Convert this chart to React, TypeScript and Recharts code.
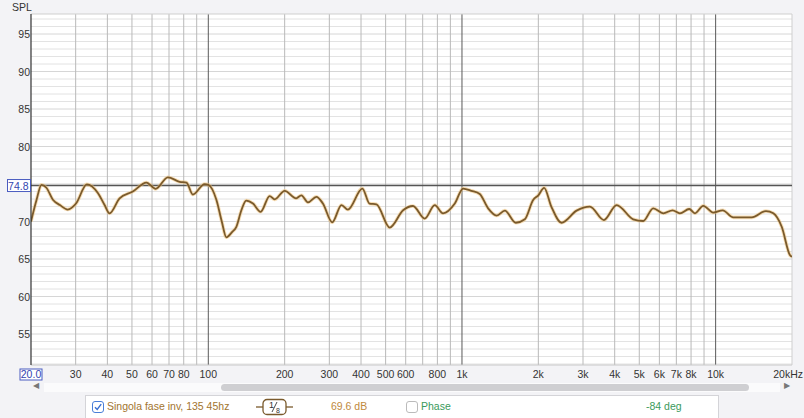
import React from "react";
import { LineChart, Line, XAxis, YAxis, ReferenceLine, CartesianGrid } from "recharts";

const freqHz = [
  20, 21, 22, 23, 24.4, 26, 27.9, 30.1, 33.2, 36.7, 39, 40.8, 44.7, 50.4, 57, 62, 69.3, 77.1, 82,
  86.9, 96.7, 100, 107.6, 113, 117.8, 124, 129, 135, 141, 150, 160.8, 174.5, 182.6, 200, 222,
  232.7, 247, 266.7, 283, 308, 335, 355, 405, 432, 460, 519, 586, 641, 713, 781, 842, 937, 1010,
  1090, 1175, 1268, 1370, 1476, 1630, 1769, 1908, 2000, 2108, 2250, 2469, 2830, 3193, 3626, 4070,
  4731, 5181, 5675, 6215, 6766, 7229, 7868, 8288, 8935, 9785, 10660, 11735, 13870, 15793, 16880,
  18220, 19650, 20000,
];
const splDb = [
  70.0, 72.8, 74.9, 74.5, 72.9, 72.2, 71.6, 72.4, 74.95, 73.8, 72.2, 71.1, 73.1, 74.0, 75.2, 74.35,
  75.9, 75.3, 75.2, 73.6, 75.0, 74.9, 72.9, 70.0, 67.9, 68.6, 69.3, 71.5, 72.8, 72.4, 71.3, 73.4,
  72.96, 74.1, 73.1, 73.5, 72.56, 73.3, 72.4, 69.9, 72.2, 71.6, 74.4, 72.4, 72.3, 69.2, 71.5,
  72.07, 70.4, 72.2, 71.1, 72.4, 74.4, 74.1, 73.67, 71.76, 70.8, 71.45, 69.84, 70.3, 72.87, 73.5,
  74.5, 72.0, 69.84, 71.45, 71.98, 70.2, 72.2, 70.3, 70.07, 71.76, 71.1, 71.5, 71.1, 71.67, 71.1,
  72.1, 71.2, 71.5, 70.56, 70.56, 71.4, 71.1, 69.3, 65.5, 65.3,
];

const xTicks = [20, 30, 40, 50, 60, 70, 80, 100, 200, 300, 400, 500, 600, 800, 1000, 2000, 3000, 4000, 5000, 6000, 7000, 8000, 10000, 20000];
const xMinor = [30, 40, 50, 60, 70, 80, 90, 200, 300, 400, 500, 600, 700, 800, 900, 2000, 3000, 4000, 5000, 6000, 7000, 8000, 9000];
const xMajor = [100, 1000, 10000];
const yGrid5 = [55, 60, 65, 70, 75, 80, 85, 90, 95];
// 75 is hidden behind the 74.8 marker label
const yLabels = [55, 60, 65, 70, 80, 85, 90, 95];
const yMinor = [51, 52, 53, 54, 56, 57, 58, 59, 61, 62, 63, 64, 66, 67, 68, 69, 71, 72, 73, 74, 76, 77, 78, 79, 81, 82, 83, 84, 86, 87, 88, 89, 91, 92, 93, 94, 96, 97];
const refLevel = 74.8;

const traceName = "Singola fase inv, 135 45hz";
const cursorSpl = "69.6 dB";
const cursorPhase = "-84 deg";

const data = freqHz.map((f, i) => ({ f, spl: splDb[i] }));

const FONT = "'Liberation Sans', Arial, sans-serif";
const FS = 10.5;

function fmtFreq(v: number) {
  if (v === 20) return "20.0";
  if (v === 20000) return "20kHz";
  return v >= 1000 ? `${v / 1000}k` : `${v}`;
}

function FreqTick(props: any) {
  const { x, payload } = props;
  const v = payload.value;
  const ty = 378;
  if (v === 20) {
    return (
      <g>
        <rect x={x - 11} y={369} width={22} height={11} fill="#fff" stroke="#4a5cc0" strokeWidth={1} />
        <text x={x} y={ty} textAnchor="middle" fontSize={FS} fill="#3345b0" fontFamily={FONT}>20.0</text>
      </g>
    );
  }
  if (v === 20000) {
    return (
      <text x={803} y={ty} textAnchor="end" fontSize={FS} fill="#333" fontFamily={FONT}>20kHz</text>
    );
  }
  return (
    <text x={x} y={ty} textAnchor="middle" fontSize={FS} fill="#333" fontFamily={FONT}>{fmtFreq(v)}</text>
  );
}

function SplTick(props: any) {
  const { y, payload } = props;
  const v = payload.value;
  if (v === refLevel) {
    return (
      <g>
        <rect x={7.5} y={y - 6} width={23} height={12} fill="#fff" stroke="#4a5cc0" strokeWidth={1} />
        <text x={28.5} y={y + 4} textAnchor="end" fontSize={FS} fill="#3345b0" fontFamily={FONT}>74.8</text>
      </g>
    );
  }
  return (
    <text x={30} y={y + 4} textAnchor="end" fontSize={FS} fill="#333" fontFamily={FONT}>{v}</text>
  );
}

function CheckBox({ checked }: { checked: boolean }) {
  return (
    <svg width={12} height={12} style={{ display: "block" }}>
      <rect x={0.5} y={0.5} width={11} height={11} rx={2.5} fill="#fff" stroke={checked ? "#4a7fd8" : "#bbb"} />
      {checked && <path d="M3 6.2 L5.2 8.5 L9.2 3.2" fill="none" stroke="#3a6fd0" strokeWidth={1.4} />}
    </svg>
  );
}

export default function App() {
  return (
    <div
      style={{
        position: "absolute",
        left: 0,
        top: 0,
        width: 804,
        height: 418,
        background: "#f3f3f6",
        fontFamily: FONT,
        overflow: "hidden",
      }}
    >
      <div style={{ position: "absolute", left: 12, top: 1, fontSize: FS, color: "#333" }}>SPL</div>
      <LineChart width={804} height={395} data={data} margin={{ top: 14, right: 12, left: 0, bottom: 8 }}>
        <CartesianGrid fill="#ffffff" horizontal={false} vertical={false} />
        {yMinor.map((v) => (
          <ReferenceLine key={`ym${v}`} y={v} stroke="#e3e3e3" strokeWidth={1} />
        ))}
        {yGrid5.map((v) => (
          <ReferenceLine key={`yt${v}`} y={v} stroke="#d6d6d6" strokeWidth={1} />
        ))}
        {xMinor.map((v) => (
          <ReferenceLine key={`xm${v}`} x={v} stroke="#b9b9b9" strokeWidth={1} />
        ))}
        {xMajor.map((v) => (
          <ReferenceLine key={`xM${v}`} x={v} stroke="#5a5a5a" strokeWidth={1} />
        ))}
        <ReferenceLine y={97.67} stroke="#cfcfcf" />
        <ReferenceLine x={20000} stroke="#cfcfcf" />
        <ReferenceLine y={refLevel} stroke="#555" strokeWidth={1.5} />
        <XAxis
          dataKey="f"
          type="number"
          scale="log"
          domain={[20, 20000]}
          ticks={xTicks}
          interval={0}
          allowDataOverflow
          height={22}
          tickLine={false}
          axisLine={{ stroke: "#c8c8c8" }}
          tick={<FreqTick />}
        />
        <YAxis
          type="number"
          domain={[50.87, 97.67]}
          ticks={[...yLabels, refLevel]}
          interval={0}
          allowDataOverflow
          width={31}
          tickLine={false}
          axisLine={{ stroke: "#333", strokeWidth: 1.2 }}
          tick={<SplTick />}
        />
        <Line
          type="monotone"
          dataKey="spl"
          stroke="#f0c27a"
          strokeOpacity={0.55}
          strokeWidth={3.6}
          dot={false}
          activeDot={false}
          isAnimationActive={false}
        />
        <Line
          type="monotone"
          dataKey="spl"
          stroke="#7a5a2c"
          strokeWidth={1.8}
          dot={false}
          activeDot={false}
          isAnimationActive={false}
        />
      </LineChart>

      {/* scroll bar */}
      <div style={{ position: "absolute", left: 33, top: 381, fontSize: 8, color: "#777" }}>◀</div>
      <div style={{ position: "absolute", left: 44, top: 383, width: 736, height: 9, background: "#fbfbfc" }} />
      <div style={{ position: "absolute", left: 221, top: 384, width: 528, height: 7, borderRadius: 4, background: "#cfcfd2" }} />
      <div style={{ position: "absolute", left: 784, top: 381, fontSize: 8, color: "#777" }}>▶</div>

      {/* trace legend row */}
      <div
        style={{
          position: "absolute",
          left: 85,
          top: 395,
          width: 634,
          height: 30,
          background: "#fff",
          border: "1px solid #d4d4d8",
          boxSizing: "border-box",
          fontSize: FS,
        }}
      >
        <div style={{ position: "absolute", left: 6, top: 5 }}>
          <CheckBox checked />
        </div>
        <div style={{ position: "absolute", left: 21, top: 4, color: "#a2742e" }}>{traceName}</div>
        <svg style={{ position: "absolute", left: 169, top: 2 }} width={40} height={18}>
          <line x1={1} y1={9} x2={8} y2={9} stroke="#7a5a2c" strokeWidth={1.3} />
          <line x1={31} y1={9} x2={38} y2={9} stroke="#7a5a2c" strokeWidth={1.3} />
          <rect x={8} y={1.5} width={23} height={15} rx={4} fill="#fff" stroke="#7a5a2c" strokeWidth={1.3} />
          <text x={14} y={10} fontSize={9} fill="#333" fontFamily={FONT}>1</text>
          <line x1={17} y1={14} x2={22} y2={4} stroke="#333" strokeWidth={0.9} />
          <text x={21} y={15} fontSize={7} fill="#333" fontFamily={FONT}>8</text>
        </svg>
        <div style={{ position: "absolute", left: 245, top: 4, color: "#c08a40" }}>{cursorSpl}</div>
        <div style={{ position: "absolute", left: 320, top: 5 }}>
          <CheckBox checked={false} />
        </div>
        <div style={{ position: "absolute", left: 335, top: 4, color: "#3a9a5c" }}>Phase</div>
        <div style={{ position: "absolute", left: 560, top: 4, color: "#3a9a5c" }}>{cursorPhase}</div>
      </div>
    </div>
  );
}
